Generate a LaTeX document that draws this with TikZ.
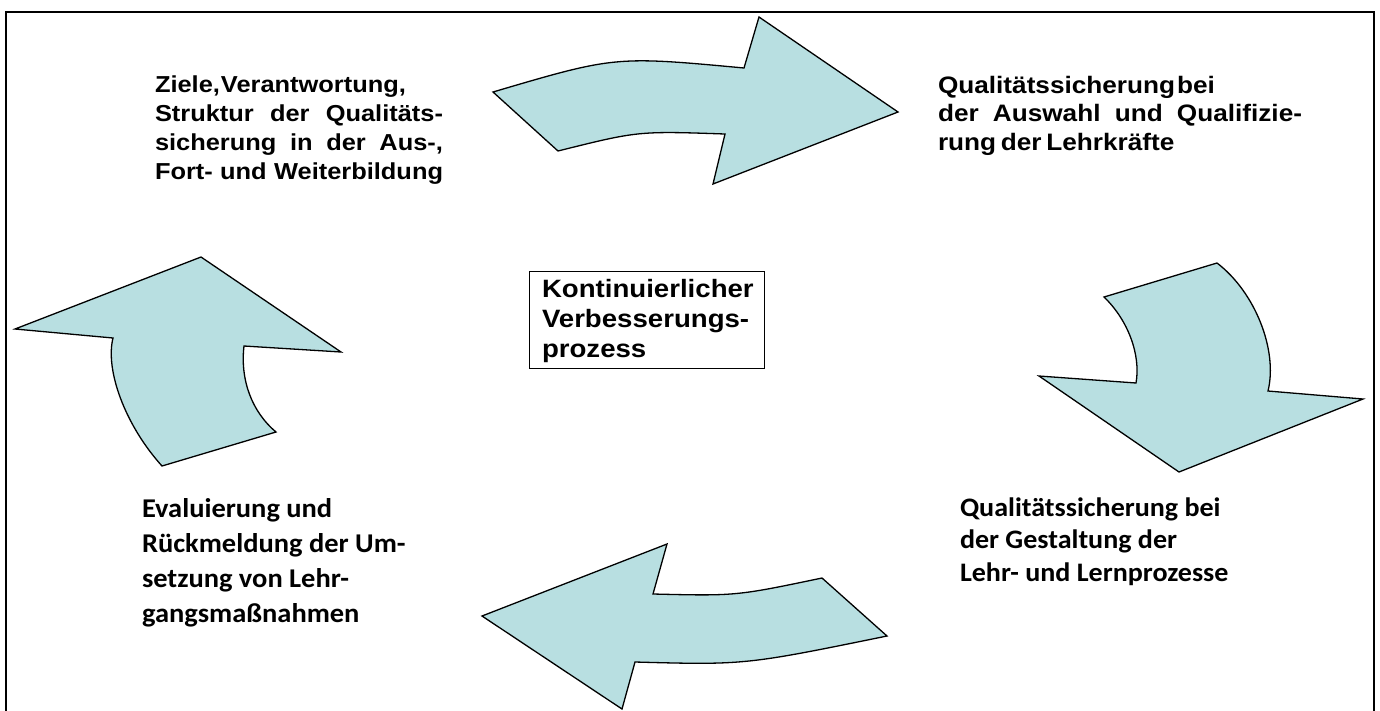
\documentclass[tikz,border=0pt]{standalone}
\usepackage{fontspec}
\newfontfamily\arialb{Liberation Sans Bold}[FakeStretch=1.1]
\newfontfamily\calib{Carlito Bold}[FakeStretch=1.05]
\definecolor{arrowfill}{RGB}{184,223,225}
\newcommand\jline[2]{\leavevmode\hbox to #1{#2}}
\tikzset{
  bigarrow/.style={fill=arrowfill,draw=black,line width=1.3pt,line join=miter},
  lbl/.style={anchor=base west,inner sep=0pt,outer sep=0pt},
  framebox/.style={draw=black,line width=1.3pt,inner sep=0pt,anchor=north west}
}
\begin{document}
\begin{tikzpicture}[x=1pt,y=-1pt]
\useasboundingbox (0,0) rectangle (1380,710);
\fill[white] (0,0) rectangle (1380,710);
% outer frame
\draw[line width=2.4pt] (6,720) -- (6,12) -- (1374,12) -- (1374,720);
% top arrow (to the right)
\draw[bigarrow] (493,92) .. controls (615,56) .. (744,68) -- (759,17) -- (898,112)
  -- (713,184) -- (725,134) .. controls (638,131) .. (558,151) -- cycle;
% right arrow (downwards)
\draw[bigarrow] (1104,297) -- (1217,263) .. controls (1255,292) and (1278,350) .. (1268,391)
  -- (1363,399) -- (1179,472) -- (1039,376) -- (1136,383)
  .. controls (1141,355) and (1128,320) .. (1104,297) -- cycle;
% bottom arrow (to the left)
\draw[bigarrow] (482,616) -- (667,544) -- (653,594) .. controls (736,596) .. (822,578)
  -- (887,636) .. controls (745,665) .. (635,662) -- (622,709) -- cycle;
% left arrow (upwards)
\draw[bigarrow] (15,329) -- (201,257) -- (341,352) -- (244,346)
  .. controls (240,380) and (252,412) .. (276,432) -- (162,466)
  .. controls (125,425) and (105,370) .. (113,338) -- cycle;
% centre box
\node[framebox,minimum width=235pt,minimum height=97pt] (kvpbox) at (529,271) {};
\node[lbl] (kvp) at (542,297) {\parbox[t]{220pt}{\raggedright\arialb\fontsize{25.1}{30}\selectfont
  Kontinuierlicher\\Verbesserungs-\\prozess}};
% texts
\node[lbl] (ziele) at (155,92) {\parbox[t]{300pt}{\raggedright\arialb\fontsize{23.1}{29.3}\selectfont
  Ziele,\kern1pt Verantwortung,\\
  \jline{288pt}{Struktur\hfill der\hfill Qualitäts-}\\
  \jline{288pt}{sicherung\hfill in\hfill der\hfill Aus-,}\\
  \jline{288pt}{Fort-\hfill und\hfill Weiterbildung}}};
\node[lbl] (auswahl) at (938,93) {\parbox[t]{420pt}{\raggedright\arialb\fontsize{23.8}{28.5}\selectfont
  {\spaceskip=0.08em Qualitätssicherung bei}\\
  \jline{364pt}{der\hfill Auswahl\hfill und\hfill Qualifizie-}\\
  {\spaceskip=0.2em rung der Lehrkräfte}}};
\node[lbl] (gestaltung) at (960,516) {\parbox[t]{400pt}{\raggedright\calib\fontsize{26.7}{32.5}\selectfont
  Qualitätssicherung bei\\der Gestaltung der\\Lehr- und Lernprozesse}};
\node[lbl] (evaluierung) at (142,517) {\parbox[t]{400pt}{\raggedright\calib\fontsize{27.1}{35}\selectfont
  Evaluierung und\\Rückmeldung der Um-\\setzung von Lehr-\\gangsmaßnahmen}};
\end{tikzpicture}
\end{document}
